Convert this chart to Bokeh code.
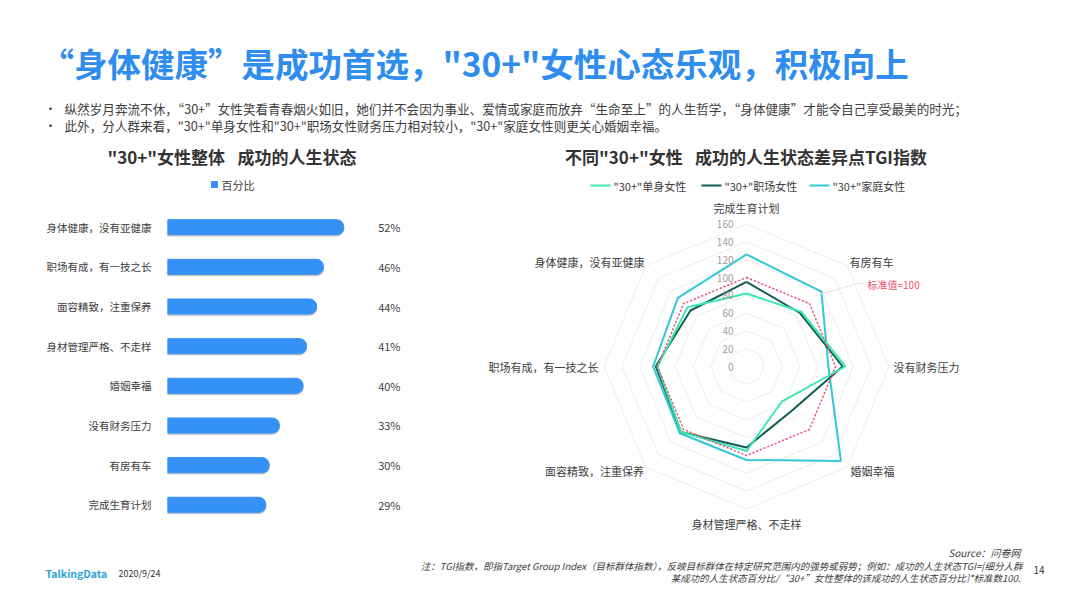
import math
from bokeh.plotting import figure
from bokeh.models import Range1d, ColumnDataSource, FactorRange
from bokeh.layouts import column, row
from bokeh.transform import dodge
from bokeh.embed import file_html
from bokeh.resources import INLINE
from bokeh.core.properties import value

# ---------------- data ----------------
categories = ["身体健康，没有亚健康", "职场有成，有一技之长", "面容精致，注重保养",
              "身材管理严格、不走样", "婚姻幸福", "没有财务压力", "有房有车", "完成生育计划"]
percent = [52, 46, 44, 41, 40, 33, 30, 29]

radar_axes = ["完成生育计划", "有房有车", "没有财务压力", "婚姻幸福",
              "身材管理严格、不走样", "面容精致，注重保养", "职场有成，有一技之长", "身体健康，没有亚健康"]
single = [82, 87, 111, 56, 95, 104, 100, 94]
career = [95, 85, 108, 71, 91, 104, 102, 89]
family = [126, 119, 92, 150, 105, 106, 105, 109]
standard = [100, 100, 100, 100, 100, 100, 100, 100]
radar_ticks = [0, 20, 40, 60, 80, 100, 120, 140, 160]
series_names = ['"30+"单身女性', '"30+"职场女性', '"30+"家庭女性']

FONT = "Noto Sans CJK SC"
TXT = "#404040"
BLUE = "#3591F5"
MINT = "#3DE6B4"
DARK = "#0F5E52"
CYAN = "#33C7D7"
RED = "#F0506E"
GAP = "\u2002\u00a0"


def canvas(w, h):
    p = figure(width=w, height=h, x_range=Range1d(0, w), y_range=Range1d(h, 0),
               output_backend="svg", toolbar_location=None, min_border=0,
               x_axis_location=None, y_axis_location=None)
    p.grid.visible = False
    p.outline_line_color = None
    return p


def txt(p, x, y, s, size, color=TXT, align="left", style="normal", font=FONT):
    p.text(x=[x], y=[y], text=[s], text_font=value(font), text_font_size=value(size),
           text_color=color, text_align=align, text_baseline="middle", text_font_style=style)


# ---------------- header (page y 0..195) ----------------
hdr = canvas(1050, 195)
txt(hdr, 40, 62, "“身体健康”是成功首选，\"30+\"女性心态乐观，积极向上", "33.5px",
    color="#2F8DEF", style="bold")
txt(hdr, 44, 108, "•", "12px")
txt(hdr, 64, 108,
    "纵然岁月奔流不休，“30+”女性笑看青春烟火如旧，她们并不会因为事业、爱情或家庭而放弃“生命至上”的人生哲学，“身体健康”才能令自己享受最美的时光；",
    "12.6px")
txt(hdr, 44, 125, "•", "12px")
txt(hdr, 64, 125,
    "此外，分人群来看，\"30+\"单身女性和\"30+\"职场女性财务压力相对较小，\"30+\"家庭女性则更关心婚姻幸福。",
    "12.6px")
# chart titles
txt(hdr, 231.5, 156, "\"30+\"女性整体" + GAP + "成功的人生状态", "17px", color="#333333",
    align="center", style="bold")
txt(hdr, 745.5, 156, "不同\"30+\"女性" + GAP + "成功的人生状态差异点TGI指数", "17px",
    color="#333333", align="center", style="bold")
# bar legend
hdr.rect(x=[214], y=[184], width=6, height=6, color=BLUE)
txt(hdr, 221, 184, "百分比", "11px")
# radar legend
for (x0, x1, tx), col, name in zip([(590, 610, 613), (701, 721, 724), (809, 829, 832)],
                                   [MINT, DARK, CYAN], series_names):
    hdr.line(x=[x0, x1], y=[185, 185], line_color=col, line_width=2)
    txt(hdr, tx, 185, name, "11px")

# ---------------- middle row (page y 195..540, frames 195..536) ----------------
ROW_TOP, ROW_H, BOT = 195, 345, 4
ROW_SPACING = 39.66  # px per category row
frame_h = ROW_H - BOT

# bar chart (page x 0..470)
PXU = 3.39  # px per percent unit
yr = FactorRange(factors=list(reversed(categories)),
                 range_padding=(frame_h - 8 * ROW_SPACING) / ROW_SPACING / 2,
                 range_padding_units="absolute")
bar = figure(width=470, height=ROW_H, y_range=yr,
             x_range=Range1d(0, (460 - 167) / PXU),
             output_backend="svg", toolbar_location=None,
             min_border_left=167, min_border_right=10, min_border_top=0, min_border_bottom=BOT)
src = ColumnDataSource(dict(cat=categories, pct=percent,
                            lab=[f"{v}%" for v in percent]))
bar.hbar(y=dodge("cat", -0.035, range=bar.y_range), right="pct", left=0, height=0.38,
         color="#9A9A9A", alpha=0.45, border_radius=(0, 7, 7, 0), source=src)
bar.hbar(y="cat", right="pct", left=0, height=0.38, color=BLUE,
         border_radius=(0, 7, 7, 0), source=src)
bar.text(x=(400 - 167) / PXU, y="cat", text="lab", source=src,
         text_font=value(FONT), text_font_size=value("11px"),
         text_color=TXT, text_align="right", text_baseline="middle")
bar.xaxis.visible = False
bar.yaxis.axis_line_color = None
bar.yaxis.major_tick_line_color = None
bar.yaxis.minor_tick_line_color = None
bar.yaxis.major_label_standoff = 10
bar.yaxis.major_label_text_font = FONT
bar.yaxis.major_label_text_font_size = "10.5px"
bar.yaxis.major_label_text_color = TXT
bar.grid.visible = False
bar.outline_line_color = None

# radar (page x 470..1050)
S = 0.89  # px per TGI unit
CX, CY = 746, 366
FX, W = 470, 580
rad = figure(width=W, height=ROW_H,
             x_range=Range1d(-(CX - FX) / S, (FX + W - CX) / S),
             y_range=Range1d(-(ROW_TOP + frame_h - CY) / S, (CY - ROW_TOP) / S),
             output_backend="svg", toolbar_location=None,
             min_border_left=0, min_border_right=0, min_border_top=0, min_border_bottom=BOT,
             x_axis_location=None, y_axis_location=None)
rad.grid.visible = False
rad.outline_line_color = None


def poly(vals):
    xs, ys = [], []
    for i, v in enumerate(list(vals) + [vals[0]]):
        a = math.radians(i * 45)
        xs.append(v * math.sin(a))
        ys.append(v * math.cos(a))
    return xs, ys


def d(px, py):
    return (px - CX) / S, (CY - py) / S


for t in radar_ticks[1:]:
    xs, ys = poly([t] * 8)
    rad.line(xs, ys, line_color="#EDEDED", line_width=1)

for vals, col in [(family, CYAN), (career, DARK), (single, MINT)]:
    xs, ys = poly(vals)
    rad.line(xs, ys, line_color=col, line_width=2)
xs, ys = poly(standard)
rad.line(xs, ys, line_color=RED, line_width=1.5, line_dash="2 2")

# tick labels
rad.text(x=[d(733, 0)[0]] * len(radar_ticks), y=radar_ticks, text=[str(t) for t in radar_ticks],
         text_font=value(FONT), text_font_size=value("10px"), text_color="#A0A0A0",
         text_align="right", text_baseline="middle")

# axis names
name_pos = [((746, 207), "center"), ((871, 261), "center"), ((893, 366), "left"),
            ((872, 470), "center"), ((746, 523), "center"), ((594, 470), "center"),
            ((598, 366), "right"), ((589, 261), "center")]
for (pp, al), nm in zip(name_pos, radar_axes):
    x, y = d(*pp)
    txt(rad, x, y, nm, "11px", align=al)

# standard value annotation
lx, ly = zip(d(815, 295), d(857, 283), d(863, 283))
rad.line(list(lx), list(ly), line_color="#E2E2E2", line_width=1)
x, y = d(867, 284)
txt(rad, x, y, "标准值=100", "10px", color=RED)

# ---------------- footer (page y 540..583) ----------------
FO = 540
ftr = canvas(1050, 43)
txt(ftr, 45, 573 - FO, "TalkingData", "10.5px", color="#2AA3E0", style="bold")
txt(ftr, 118, 573 - FO, "2020/9/24", "9px", color="#333333")
txt(ftr, 1020, 552 - FO, "Source：问卷网", "10px", align="right", style="italic")
txt(ftr, 1022, 565 - FO,
    "注：TGI指数，即指Target Group Index（目标群体指数），反映目标群体在特定研究范围内的强势或弱势；例如：成功的人生状态TGI=[细分人群",
    "9.5px", align="right", style="italic")
txt(ftr, 1020, 577 - FO,
    "某成功的人生状态百分比/“30+”女性整体的该成功的人生状态百分比]*标准数100.",
    "9.5px", align="right", style="italic")
txt(ftr, 1033, 569 - FO, "14", "10px", color="#333333")

layout = column(hdr, row(bar, rad), ftr)
open("out.html", "w").write(file_html(layout, INLINE))
